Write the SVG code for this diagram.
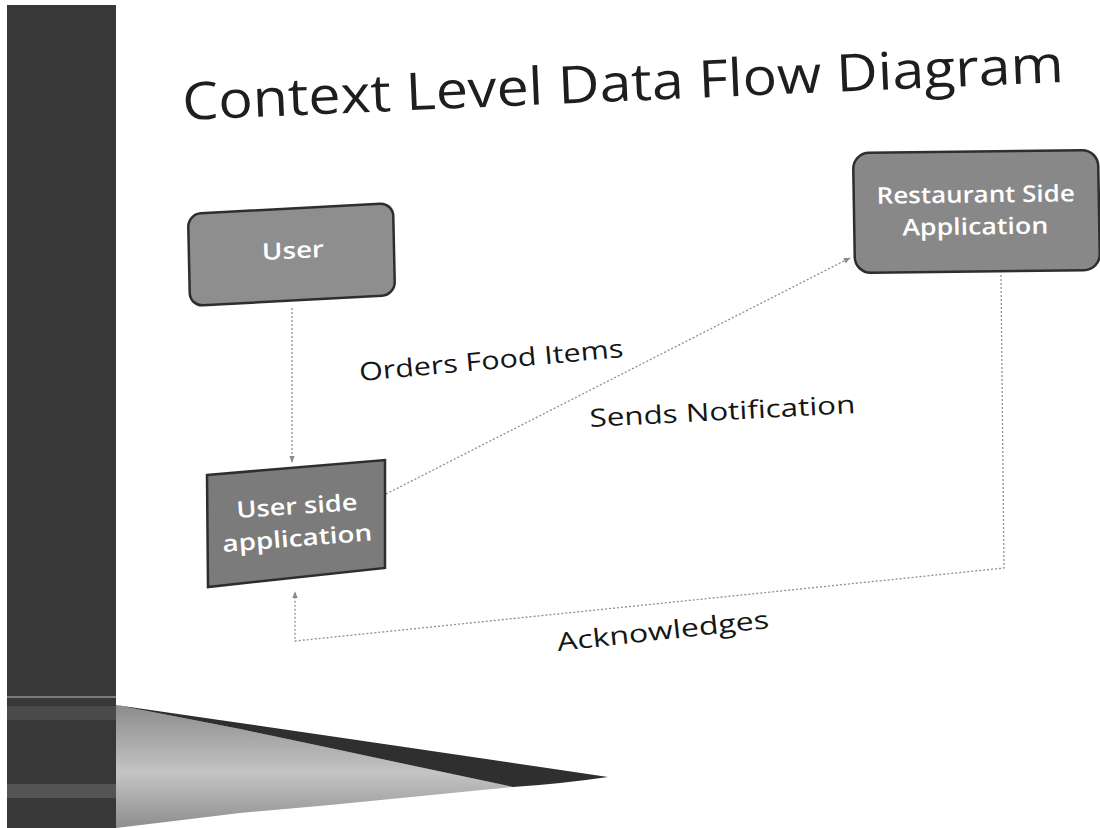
<svg xmlns="http://www.w3.org/2000/svg" width="1100" height="828" viewBox="0 0 1100 828">
  <defs>
    <style>
      .title { font-family: "Open Sans", "DejaVu Sans", sans-serif; font-size: 52px; fill: #1e1e1e; }
      .label { font-family: "Open Sans", "DejaVu Sans", sans-serif; font-size: 25px; fill: #151515; }
      .nodeText { font-family: "Open Sans", "DejaVu Sans", sans-serif; font-weight: 600; font-size: 23px; fill: #ffffff; }
      .box { stroke: #2e2e2e; stroke-width: 2.5; }
      .flow { fill: none; stroke: #8f8f8f; stroke-width: 1.3; stroke-dasharray: 2 2; }
    </style>
    <marker id="arrow" viewBox="0 0 10 10" refX="9" refY="5" markerWidth="7" markerHeight="7" orient="auto" markerUnits="userSpaceOnUse">
      <path d="M0,1 L10,5 L0,9 z" fill="#8a8a8a"/>
    </marker>
    <linearGradient id="wedgeFill" x1="0" y1="0" x2="0" y2="1">
      <stop offset="0" stop-color="#8c8c8c"/>
      <stop offset="0.55" stop-color="#c4c4c4"/>
      <stop offset="1" stop-color="#8e8e8e"/>
    </linearGradient>
  </defs>

  <rect width="1100" height="828" fill="#ffffff"/>

  <!-- side bar and bottom swoosh -->
  <g id="decor">
    <rect x="7" y="5" width="109" height="823" fill="#383838"/>
    <rect x="7" y="696" width="109" height="2" fill="#7a7a7a"/>
    <rect x="7" y="706" width="109" height="14" fill="#4a4a4a"/>
    <rect x="7" y="784" width="109" height="14" fill="#545454"/>
    <path d="M116,705 L240,729 L330,748 L513,787 L330,805 L240,813 L116,828 Z" fill="url(#wedgeFill)"/>
    <path d="M116,705 Q330,736 608,777 Q560,784 513,787 L330,748 L240,729 Z" fill="#2f2f2f"/>
  </g>

  <text class="title" x="183" y="120" transform="rotate(-2.47 183 120)" textLength="882" lengthAdjust="spacingAndGlyphs">Context Level Data Flow Diagram</text>

  <!-- connectors -->
  <g id="connectors">
    <path class="flow" d="M292,308 L292,462" marker-end="url(#arrow)"/>
    <path class="flow" d="M386,494 L850,258" marker-end="url(#arrow)"/>
    <path class="flow" d="M1001,275 L1004,568 L295,641 L295,592" marker-end="url(#arrow)"/>
  </g>

  <!-- flow labels -->
  <g id="labels">
    <text class="label" x="360" y="381" transform="rotate(-5.2 360 381)" textLength="265" lengthAdjust="spacingAndGlyphs">Orders Food Items</text>
    <text class="label" x="590" y="427" transform="rotate(-3 590 427)" textLength="266" lengthAdjust="spacingAndGlyphs">Sends Notification</text>
    <text class="label" x="558" y="651" transform="rotate(-6.2 558 651)" textLength="213" lengthAdjust="spacingAndGlyphs">Acknowledges</text>
  </g>

  <!-- nodes -->
  <g id="node-user" transform="matrix(1,-0.0537,0.0217,1,188,214)">
    <rect class="box" x="0" y="0" width="205" height="92" rx="13" fill="#8e8e8e"/>
    <text class="nodeText" x="73" y="50" textLength="62" lengthAdjust="spacingAndGlyphs">User</text>
  </g>

  <g id="node-user-side-app">
    <path class="box" d="M207,475 L385,460 L385,568 L208,587 Z" fill="#7b7b7b"/>
    <text class="nodeText" x="237" y="518" transform="rotate(-3.8 237 518)" textLength="121" lengthAdjust="spacingAndGlyphs">User side</text>
    <text class="nodeText" x="223" y="552" transform="rotate(-4.4 223 552)" textLength="150" lengthAdjust="spacingAndGlyphs">application</text>
  </g>

  <g id="node-restaurant" transform="matrix(1,-0.0122,0.0167,1,853,153)">
    <rect class="box" x="0" y="0" width="245" height="120" rx="16" fill="#888888"/>
    <text class="nodeText" x="23" y="51" textLength="198" lengthAdjust="spacingAndGlyphs">Restaurant Side</text>
    <text class="nodeText" x="48" y="83" textLength="146" lengthAdjust="spacingAndGlyphs">Application</text>
  </g>
</svg>
